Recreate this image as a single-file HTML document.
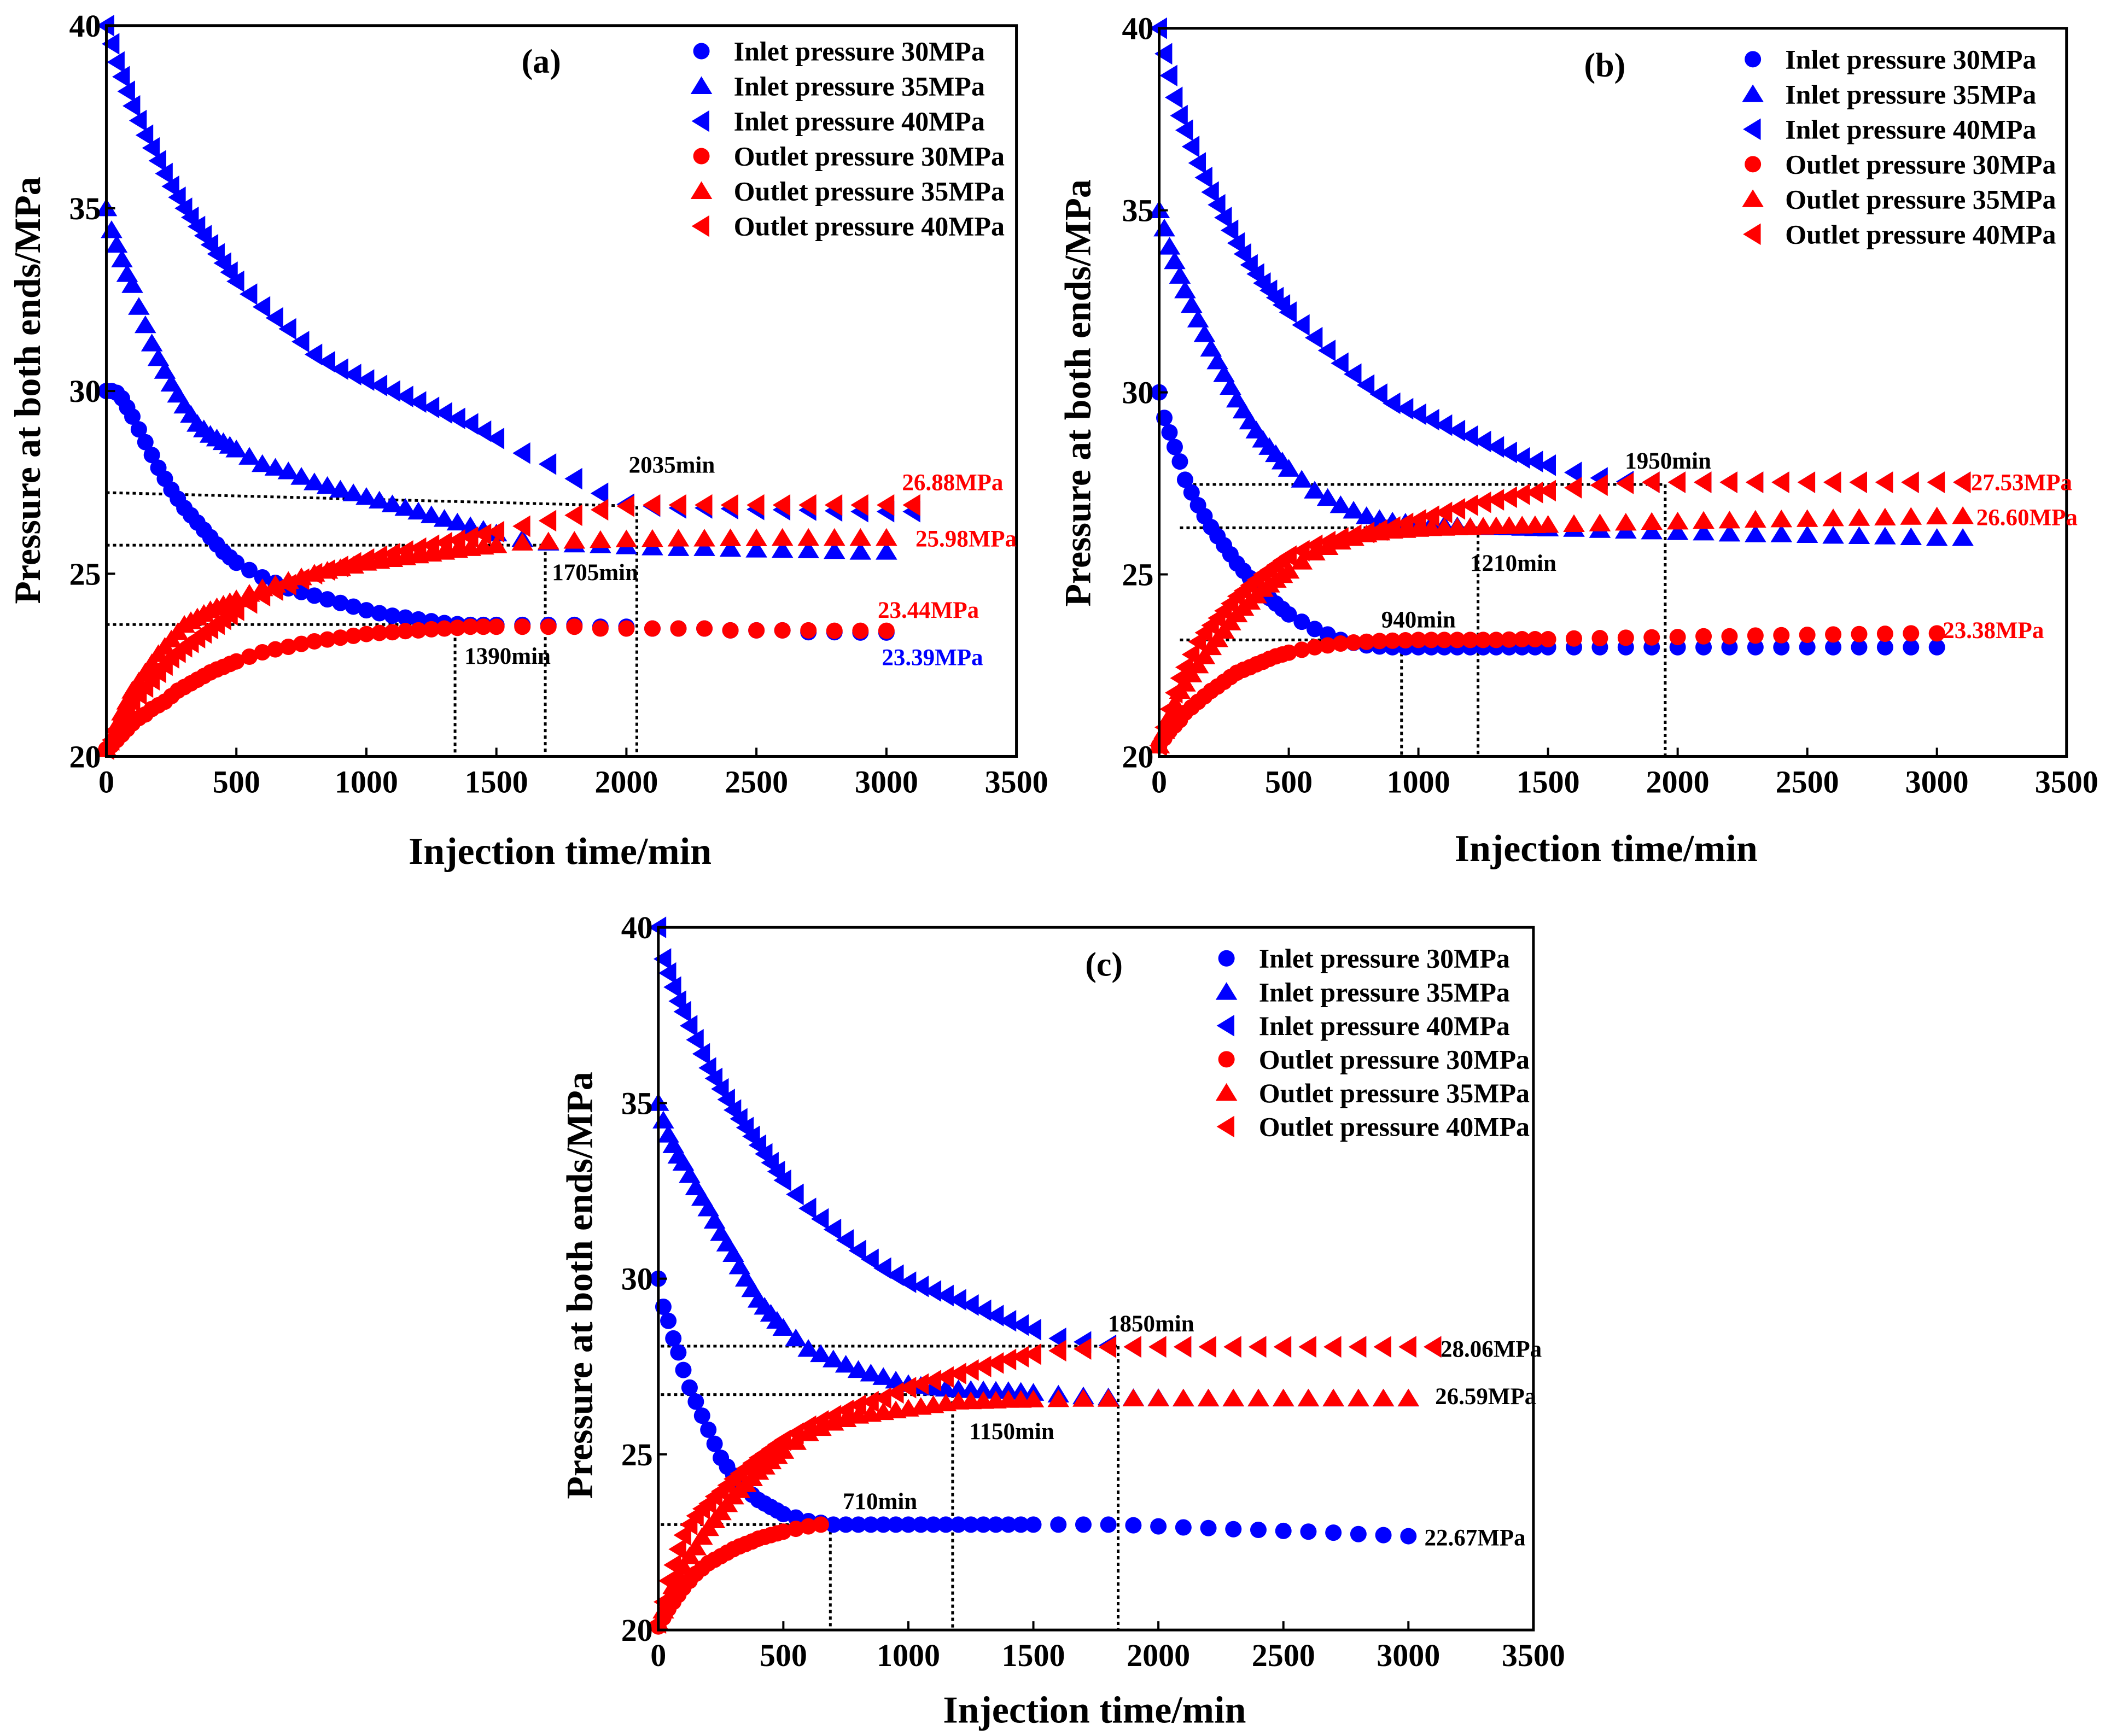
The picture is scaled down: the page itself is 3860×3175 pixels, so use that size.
<!DOCTYPE html>
<html><head><meta charset="utf-8"><style>
html,body{margin:0;padding:0;background:#fff}
svg{display:block}
text{font-family:"Liberation Serif",serif;font-weight:bold}
</style></head><body>
<svg id="fig" width="3860" height="3175" viewBox="0 0 3860 3175" xmlns="http://www.w3.org/2000/svg"></svg>
<script>
const TA=[0,20,40,60,80,100,125,150,175,200,225,250,275,300,325,350,375,400,425,450,475,500,550,600,650,700,750,800,850,900,950,1000,1050,1100,1150,1200,1250,1300,1350,1400,1450,1500,1600,1700,1800,1900,2000,2100,2200,2300,2400,2500,2600,2700,2800,2900,3000];
const TB=[0,20,40,60,80,100,125,150,175,200,225,250,275,300,325,350,375,400,425,450,475,500,550,600,650,700,750,800,850,900,950,1000,1050,1100,1150,1200,1250,1300,1350,1400,1450,1500,1600,1700,1800,1900,2000,2100,2200,2300,2400,2500,2600,2700,2800,2900,3000,3100];
const Tc30=[0,20,40,60,80,100,125,150,175,200,225,250,275,300,325,350,375,400,425,450,475,500,550,600,650];
const xTicks=[0,500,1000,1500,2000,2500,3000,3500];
const yTicks=[20,25,30,35,40];
const legendLabels=["Inlet pressure 30MPa","Inlet pressure 35MPa","Inlet pressure 40MPa","Outlet pressure 30MPa","Outlet pressure 35MPa","Outlet pressure 40MPa"];
// Panel a
const aIn30=[30,30,29.95,29.8,29.55,29.3,28.95,28.6,28.25,27.9,27.6,27.3,27.05,26.8,26.6,26.4,26.2,26.0,25.8,25.6,25.45,25.3,
25.1,24.9,24.75,24.6,24.5,24.4,24.3,24.2,24.1,24.0,23.92,23.85,23.8,23.75,23.7,23.65,23.62,23.6,23.6,23.6,
23.6,23.6,23.6,23.55,23.55,23.5,23.5,23.5,23.45,23.45,23.45,23.4,23.4,23.39,23.39];
const aOut30=[20.2,20.3,20.45,20.6,20.75,20.9,21.05,21.15,21.3,21.4,21.5,21.65,21.8,21.9,22.0,22.1,22.2,22.3,22.38,22.45,22.53,22.6,
22.73,22.85,22.93,23.0,23.08,23.15,23.2,23.25,23.3,23.35,23.38,23.4,23.43,23.45,23.48,23.5,23.52,23.55,23.55,23.55,
23.55,23.55,23.55,23.5,23.5,23.5,23.5,23.5,23.45,23.45,23.45,23.45,23.44,23.44,23.44];
const aIn35=[35,34.4,34.0,33.6,33.2,32.9,32.3,31.8,31.3,30.9,30.55,30.2,29.9,29.6,29.35,29.1,28.95,28.8,28.7,28.6,28.5,28.4,
28.2,28.0,27.9,27.8,27.65,27.5,27.4,27.3,27.2,27.1,27.0,26.9,26.8,26.7,26.6,26.5,26.4,26.3,26.2,26.1,
25.95,25.85,25.8,25.78,25.75,25.72,25.7,25.7,25.68,25.66,25.65,25.64,25.62,25.6,25.6];
const aOut35=[20.2,20.5,20.85,21.2,21.5,21.8,22.05,22.3,22.55,22.8,23.0,23.2,23.4,23.6,23.7,23.8,23.9,24.0,24.08,24.15,24.22,24.3,
24.45,24.6,24.7,24.8,24.9,25.0,25.08,25.15,25.22,25.3,25.35,25.4,25.45,25.5,25.55,25.6,25.65,25.7,25.74,25.78,
25.85,25.88,25.9,25.92,25.94,25.95,25.96,25.96,25.97,25.97,25.98,25.98,25.98,25.98,25.98];
const aIn40=[40,39.5,39.0,38.6,38.2,37.8,37.4,37.0,36.65,36.3,35.95,35.6,35.3,35.0,34.75,34.5,34.25,34.0,33.75,33.5,33.25,33.0,
32.65,32.3,32.0,31.7,31.35,31.0,30.8,30.6,30.45,30.3,30.15,30.0,29.85,29.7,29.55,29.4,29.25,29.1,28.9,28.7,
28.3,28.0,27.6,27.2,26.9,26.85,26.8,26.8,26.78,26.76,26.75,26.74,26.72,26.7,26.7,26.7];
const aOut40=[20.2,20.45,20.75,21.0,21.25,21.5,21.7,21.9,22.1,22.3,22.5,22.7,22.85,23.0,23.12,23.25,23.38,23.5,23.62,23.75,23.88,24.0,
24.2,24.4,24.55,24.7,24.85,25.0,25.1,25.2,25.3,25.4,25.48,25.55,25.62,25.7,25.78,25.85,25.92,26.0,26.08,26.15,
26.3,26.45,26.6,26.75,26.85,26.88,26.88,26.88,26.88,26.88,26.88,26.88,26.88,26.88,26.88,26.88];
// Panel b
const bIn30=[30,29.3,28.9,28.5,28.1,27.6,27.25,26.9,26.6,26.3,26.05,25.8,25.55,25.3,25.1,24.9,24.7,24.5,24.35,24.2,24.05,23.9,
23.7,23.5,23.35,23.2,23.12,23.05,23.02,23.0,23.0,23.0,23.0,23.0,23.0,23.0,23.0,23.0,23.0,23.0,23.0,23.0,
23.0,23.0,23.0,23.0,23.0,23.0,23.0,23.0,23.0,23.0,23.0,23.0,23.0,23.0,23.0];
const bOut30=[20.3,20.5,20.7,20.85,21.0,21.2,21.35,21.5,21.65,21.8,21.92,22.05,22.18,22.3,22.38,22.45,22.53,22.6,22.68,22.75,22.8,22.85,
22.93,23.0,23.05,23.1,23.13,23.15,23.17,23.18,23.19,23.2,23.2,23.2,23.2,23.2,23.2,23.2,23.21,23.22,23.22,23.22,
23.24,23.25,23.26,23.27,23.28,23.3,23.3,23.32,23.33,23.34,23.35,23.36,23.37,23.38,23.38];
const bIn35=[35,34.5,34.0,33.6,33.2,32.8,32.4,32.0,31.6,31.2,30.85,30.5,30.15,29.8,29.5,29.2,28.95,28.7,28.5,28.3,28.1,27.9,
27.6,27.3,27.1,26.9,26.75,26.6,26.52,26.45,26.42,26.4,26.38,26.35,26.32,26.3,26.3,26.3,26.29,26.28,26.27,26.26,
26.25,26.22,26.2,26.18,26.16,26.15,26.12,26.1,26.1,26.08,26.06,26.05,26.04,26.02,26.0,26.0];
const bOut35=[20.3,20.7,21.1,21.45,21.8,22.0,22.25,22.5,22.75,23.0,23.22,23.45,23.68,23.9,24.08,24.25,24.42,24.6,24.72,24.85,24.98,25.1,
25.35,25.6,25.75,25.9,26.0,26.1,26.15,26.2,26.22,26.25,26.27,26.28,26.29,26.3,26.31,26.32,26.33,26.34,26.35,26.36,
26.38,26.4,26.42,26.44,26.45,26.47,26.48,26.5,26.51,26.52,26.54,26.55,26.56,26.58,26.59,26.6];
const bIn40=[40,39.3,38.7,38.1,37.6,37.2,36.75,36.3,35.9,35.5,35.15,34.8,34.45,34.1,33.8,33.5,33.25,33.0,32.8,32.6,32.4,32.2,
31.85,31.5,31.15,30.8,30.5,30.2,29.95,29.7,29.55,29.4,29.25,29.1,28.95,28.8,28.65,28.5,28.35,28.2,28.1,28.0,
27.8,27.65,27.55,27.53,27.53,27.53,27.53,27.53,27.53,27.53,27.53,27.53,27.53,27.53,27.53,27.53];
const bOut40=[20.3,20.8,21.3,21.75,22.15,22.45,22.8,23.15,23.4,23.6,23.8,24.0,24.2,24.4,24.55,24.7,24.85,25.0,25.12,25.25,25.38,25.5,
25.65,25.8,25.9,26.0,26.08,26.15,26.22,26.3,26.4,26.5,26.6,26.7,26.8,26.9,26.98,27.05,27.12,27.2,27.25,27.3,
27.38,27.45,27.5,27.53,27.53,27.53,27.53,27.53,27.53,27.53,27.53,27.53,27.53,27.53,27.53,27.53];
// Panel c
const cIn30=[30,29.2,28.8,28.3,27.9,27.4,26.9,26.5,26.1,25.7,25.3,24.9,24.65,24.4,24.2,24.0,23.85,23.7,23.6,23.5,23.4,23.3,
23.2,23.1,23.05,23.0,23.0,23.0,23.0,23.0,23.0,23.0,23.0,23.0,23.0,23.0,23.0,23.0,23.0,23.0,23.0,23.0,
23.0,23.0,23.0,22.98,22.95,22.92,22.9,22.87,22.85,22.82,22.8,22.77,22.73,22.7,22.67];
const cOut30=[20.1,20.35,20.6,20.8,21.0,21.2,21.4,21.6,21.75,21.9,22.0,22.1,22.2,22.3,22.38,22.45,22.52,22.6,22.65,22.7,22.75,22.8,22.88,22.95,23.0];
const cIn35=[35,34.5,34.1,33.8,33.5,33.3,32.95,32.6,32.3,32.0,31.65,31.3,31.0,30.7,30.35,30.0,29.7,29.4,29.2,29.0,28.8,28.6,
28.3,28.0,27.85,27.7,27.55,27.4,27.3,27.2,27.1,27.0,26.95,26.9,26.87,26.85,26.83,26.82,26.81,26.8,26.78,26.75,
26.7,26.65,26.62,26.6,26.6,26.59,26.59,26.59,26.59,26.59,26.59,26.59,26.59,26.59,26.59];
const cOut35=[20.2,20.55,20.9,21.25,21.55,21.8,22.1,22.35,22.65,22.9,23.12,23.35,23.58,23.8,23.98,24.15,24.32,24.5,24.65,24.8,24.95,25.1,
25.35,25.6,25.75,25.9,26.0,26.1,26.15,26.2,26.25,26.3,26.35,26.4,26.45,26.5,26.51,26.52,26.53,26.55,26.55,26.56,
26.57,26.58,26.58,26.59,26.59,26.59,26.59,26.59,26.59,26.59,26.59,26.59,26.59,26.59,26.59];
const cIn40=[40,39.1,38.7,38.3,37.9,37.6,37.2,36.8,36.4,36.0,35.7,35.4,35.1,34.8,34.55,34.3,34.05,33.8,33.55,33.3,33.05,32.8,
32.4,32.0,31.7,31.4,31.1,30.8,30.55,30.3,30.1,29.9,29.78,29.65,29.52,29.4,29.25,29.1,28.95,28.8,28.68,28.55,
28.3,28.2,28.1,28.06,28.06,28.06,28.06,28.06,28.06,28.06,28.06,28.06,28.06,28.06,28.06,28.06];
const cOut40=[20.2,20.8,21.4,21.85,22.3,22.7,23.0,23.25,23.45,23.6,23.8,23.95,24.12,24.3,24.45,24.6,24.75,24.9,25.02,25.15,25.28,25.4,
25.6,25.8,25.95,26.1,26.25,26.4,26.5,26.6,26.75,26.9,27.0,27.1,27.2,27.3,27.4,27.5,27.6,27.7,27.78,27.85,
27.95,28.0,28.05,28.06,28.06,28.06,28.06,28.06,28.06,28.06,28.06,28.06,28.06,28.06,28.06,28.06];

const NS="http://www.w3.org/2000/svg";
const svg=document.getElementById('fig');
const K=2.4617;
function mk(tag,attrs,parent){const e=document.createElementNS(NS,tag);for(const k in attrs)e.setAttribute(k,attrs[k]);(parent||svg).appendChild(e);return e;}
function marker(g,kind,cx,cy,color){
  let e;
  if(kind==='c'){e=mk('circle',{cx:cx,cy:cy,r:15,fill:color},g);}
  else if(kind==='t'){const s=18;e=mk('polygon',{points:`${cx},${cy-s} ${cx-s*1.1},${cy+s*0.8} ${cx+s*1.1},${cy+s*0.8}`,fill:color},g);}
  else {const s=18;e=mk('polygon',{points:`${cx-s},${cy} ${cx+s*0.8},${cy-s*1.1} ${cx+s*0.8},${cy+s*1.1}`,fill:color},g);}
  return e;
}
function panel(p){
  const g=mk('g',{});
  
  
  const L=p.L*K,R=p.R*K,Tp=p.T*K,B=p.B*K;
  const X=v=>L+(v/3500)*(R-L);
  const Y=v=>B-((v-20)/20)*(B-Tp);
  p.guides.forEach((d,i)=>{
    const h=mk('line',{x1:X(d[0]),y1:Y(d[1]),x2:X(d[2]),y2:Y(d[3]),stroke:'#000','stroke-width':5,'stroke-dasharray':'6,6'},g);
    
    
    const v=mk('line',{x1:X(d[2]),y1:Y(d[3]),x2:X(d[2]),y2:Y(20),stroke:'#000','stroke-width':5,'stroke-dasharray':'6,6'},g);
    
    
  });
  const kinds=['c','t','l','c','t','l'];
  p.series.forEach((s,si)=>{
    const sg=mk('g',{},g);
    
    
    const col=si<3?'#0000ff':'#ff0000';
    s[0].forEach((t,i)=>{ if(i<s[1].length){const m=marker(sg,kinds[si],X(t),Y(s[1][i]),col);
      
      }});
  });
  const fr=mk('rect',{x:L,y:Tp,width:R-L,height:B-Tp,fill:'none',stroke:'#000','stroke-width':5},g);
  
  
  xTicks.forEach(v=>{
    mk('line',{x1:X(v),y1:B,x2:X(v),y2:B-16,stroke:'#000','stroke-width':4},g);
    const t=mk('text',{x:X(v),y:B+66,'font-size':58,'text-anchor':'middle'},g);t.textContent=v;
    
    
  });
  yTicks.forEach(v=>{
    mk('line',{x1:L,y1:Y(v),x2:L+16,y2:Y(v),stroke:'#000','stroke-width':4},g);
    const t=mk('text',{x:L-10,y:Y(v)+20,'font-size':58,'text-anchor':'end'},g);t.textContent=v;
    
    
  });
  const xt=mk('text',{x:p.xt[0]*K,y:p.xt[1]*K+24,'font-size':70,'text-anchor':'middle'},g);xt.textContent='Injection time/min';
  
  
  const yx=p.yt[0]*K+24,yy=p.yt[1]*K;
  const yt=mk('text',{x:yx,y:yy,'font-size':68,'text-anchor':'middle',transform:`rotate(-90 ${yx} ${yy})`},g);yt.textContent='Pressure at both ends/MPa';
  
  
  const pl=mk('text',{x:p.label[0]*K,y:p.label[1]*K+22,'font-size':62,'text-anchor':'middle'},g);pl.textContent=p.labelText;
  
  
  legendLabels.forEach((lab,i)=>{
    const ly=p.leg[2][i]*K;
    const m=marker(g,kinds[i],p.leg[0]*K,ly,i<3?'#0000ff':'#ff0000');
    
    
    const t=mk('text',{x:p.leg[1]*K,y:ly+17,'font-size':50},g);t.textContent=lab;
    
    
  });
  p.notes.forEach(n=>{
    const t=mk('text',{x:n[0]*K,y:n[1]*K+15,'font-size':43,fill:n[3],'text-anchor':'start'},g);t.textContent=n[2];
    
    
  });
}
panel({id:'a',L:79,R:755,T:19,B:562,xt:[416,632],yt:[20,290],label:[402,45],labelText:'(a)',
  leg:[521,545,[38,64,90,116,142,168]],
  guides:[[0,27.22,2040,26.85],[0,25.78,1688,25.78],[0,23.61,1341,23.61]],
  series:[[TA,aIn30],[TA,aIn35],[TB,aIn40],[TA,aOut30],[TA,aOut35],[TB,aOut40]],
  notes:[[467,345,'2035min','#000'],[410,425,'1705min','#000'],[345,487,'1390min','#000'],[670,358,'26.88MPa','#ff0000'],[680,400,'25.98MPa','#ff0000'],[652,453,'23.44MPa','#ff0000'],[655,488,'23.39MPa','#0000ff']]});
panel({id:'b',L:861,R:1535,T:21,B:562,xt:[1193,630],yt:[800,292],label:[1192,48],labelText:'(b)',
  leg:[1302,1326,[44,70,96,122,148,174]],
  guides:[[80,27.47,1952,27.47],[80,26.28,1230,26.28],[80,23.2,935,23.2]],
  series:[[TA,bIn30],[TB,bIn35],[TB,bIn40],[TA,bOut30],[TB,bOut35],[TB,bOut40]],
  notes:[[1207,342,'1950min','#000'],[1092,418,'1210min','#000'],[1026,460,'940min','#000'],[1464,358,'27.53MPa','#ff0000'],[1468,384,'26.60MPa','#ff0000'],[1443,468,'23.38MPa','#ff0000']]});
panel({id:'c',L:489,R:1139,T:689,B:1211,xt:[813,1270],yt:[430,955],label:[820,716],labelText:'(c)',
  leg:[911,935,[712,737,762,787,812,837]],
  guides:[[10,28.08,1839,28.08],[10,26.7,1177,26.7],[10,23.0,688,23.0]],
  series:[[TA,cIn30],[TA,cIn35],[TB,cIn40],[Tc30,cOut30],[TA,cOut35],[TB,cOut40]],
  notes:[[823,983,'1850min','#000'],[720,1063,'1150min','#000'],[626,1115,'710min','#000'],[1070,1002,'28.06MPa','#000'],[1066,1037,'26.59MPa','#000'],[1058,1142,'22.67MPa','#000']]});
</script>
</body></html>
